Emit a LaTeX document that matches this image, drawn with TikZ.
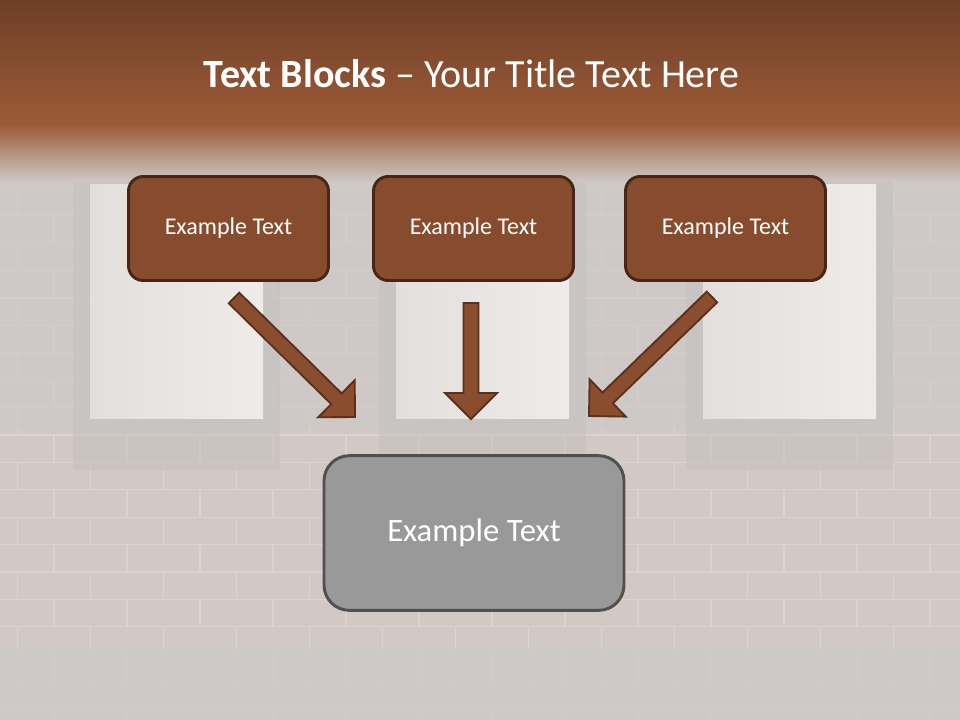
\documentclass[tikz,border=0pt]{standalone}
\usepackage{fontspec}
\setmainfont{Carlito}
\usetikzlibrary{calc}
\definecolor{bgc}{RGB}{206,201,198}
\definecolor{brickc}{RGB}{210,200,196}
\definecolor{brickline}{RGB}{218,211,207}
\definecolor{framec}{RGB}{194,190,188}
\definecolor{topA}{RGB}{110,62,38}
\definecolor{topB}{RGB}{157,92,56}
\definecolor{boxfill}{RGB}{135,76,46}
\definecolor{boxline}{RGB}{72,38,22}
\definecolor{arrfill}{RGB}{138,77,46}
\definecolor{arrline}{RGB}{92,48,26}
\definecolor{greyfill}{RGB}{153,153,153}
\definecolor{greyline}{RGB}{80,80,80}
\tikzset{
  topbox/.style={draw=boxline, fill=boxfill, line width=2.2pt, rounded corners=11pt,
    minimum width=150pt, minimum height=78pt, inner sep=0pt, text=white,
    font=\fontsize{18pt}{21pt}\selectfont},
  bottombox/.style={draw=greyline, fill=greyfill, line width=2.2pt, rounded corners=19pt,
    minimum width=225pt, minimum height=116pt, inner sep=0pt, text=white,
    font=\fontsize{24.5pt}{29pt}\selectfont},
  blk/.style={draw=arrline, fill=arrfill, line width=1.4pt, line join=miter},
  brick/.style={draw=brickline, line width=0.8pt},
}
\newcommand\blockarrow[2]{%
  \coordinate (#1-hb) at ($(#2)!19.5pt!(#1)$);
  \draw[blk] ($(#1)!5.6pt!90:(#2)$) -- ($(#1-hb)!5.6pt!90:(#2)$) -- ($(#1-hb)!19.5pt!90:(#2)$)
    -- (#2) -- ($(#1-hb)!19.5pt!-90:(#2)$) -- ($(#1-hb)!5.6pt!-90:(#2)$)
    -- ($(#1)!5.6pt!-90:(#2)$) -- cycle;}
\begin{document}
\begin{tikzpicture}[x=0.75pt, y=-0.75pt]
\useasboundingbox (0,0) rectangle (960,720);
% base
\fill[bgc] (0,0) rectangle (960,720);
\fill[brickc] (0,430) rectangle (960,648);
% bricks
\begin{scope}
\clip (0,180) rectangle (960,720);
\foreach \k in {-9,...,10} {
  \pgfmathsetmacro\yy{435+27.4*\k}
  \pgfmathsetmacro\off{mod(\k+20,2)*36.5}
  \draw[brick] (0,\yy) -- (960,\yy);
  \foreach \m in {0,...,14} {
    \draw[brick] ({-92+\off+73*\m},\yy) -- ++(0,27.4);
  }
}
\end{scope}
% fades
\fill[bgc, opacity=0.7] (0,648) rectangle (960,720);
\fill[bgc, opacity=0.55] (0,180) rectangle (960,430);
% window frames and windows
\foreach \wx in {90,396,703} {
  \fill[framec, opacity=0.45] ({\wx-17},180) rectangle ({\wx+190},470);
  \shade[left color={rgb,255:red,226;green,223;blue,221}, right color={rgb,255:red,238;green,235;blue,232}]
    (\wx,185) rectangle ({\wx+173},418);
}
% top band
\shade[top color=topA, bottom color=topB] (0,0) rectangle (960,126);
\shade[top color=topB, bottom color=bgc] (0,125) rectangle (960,182);
% title
\node[text=white, font=\fontsize{30pt}{36pt}\selectfont, anchor=base] (title) at (471.5,88)
  {\textbf{Text Blocks} – Your Title Text Here};
% boxes
\node[topbox] (b1) at (228.5,228.5) {Example Text};
\node[topbox] (b2) at (473.5,228.5) {Example Text};
\node[topbox] (b3) at (725.5,228.5) {Example Text};
\node[bottombox] (bb) at (474,533) {Example Text};
% arrows
\coordinate (a1) at (234,298);
\coordinate (t1) at (355,417);
\coordinate (a2) at (471,303);
\coordinate (t2) at (471,419);
\coordinate (a3) at (712,297);
\coordinate (t3) at (589,416);
\blockarrow{a1}{t1}
\blockarrow{a2}{t2}
\blockarrow{a3}{t3}
\end{tikzpicture}
\end{document}
